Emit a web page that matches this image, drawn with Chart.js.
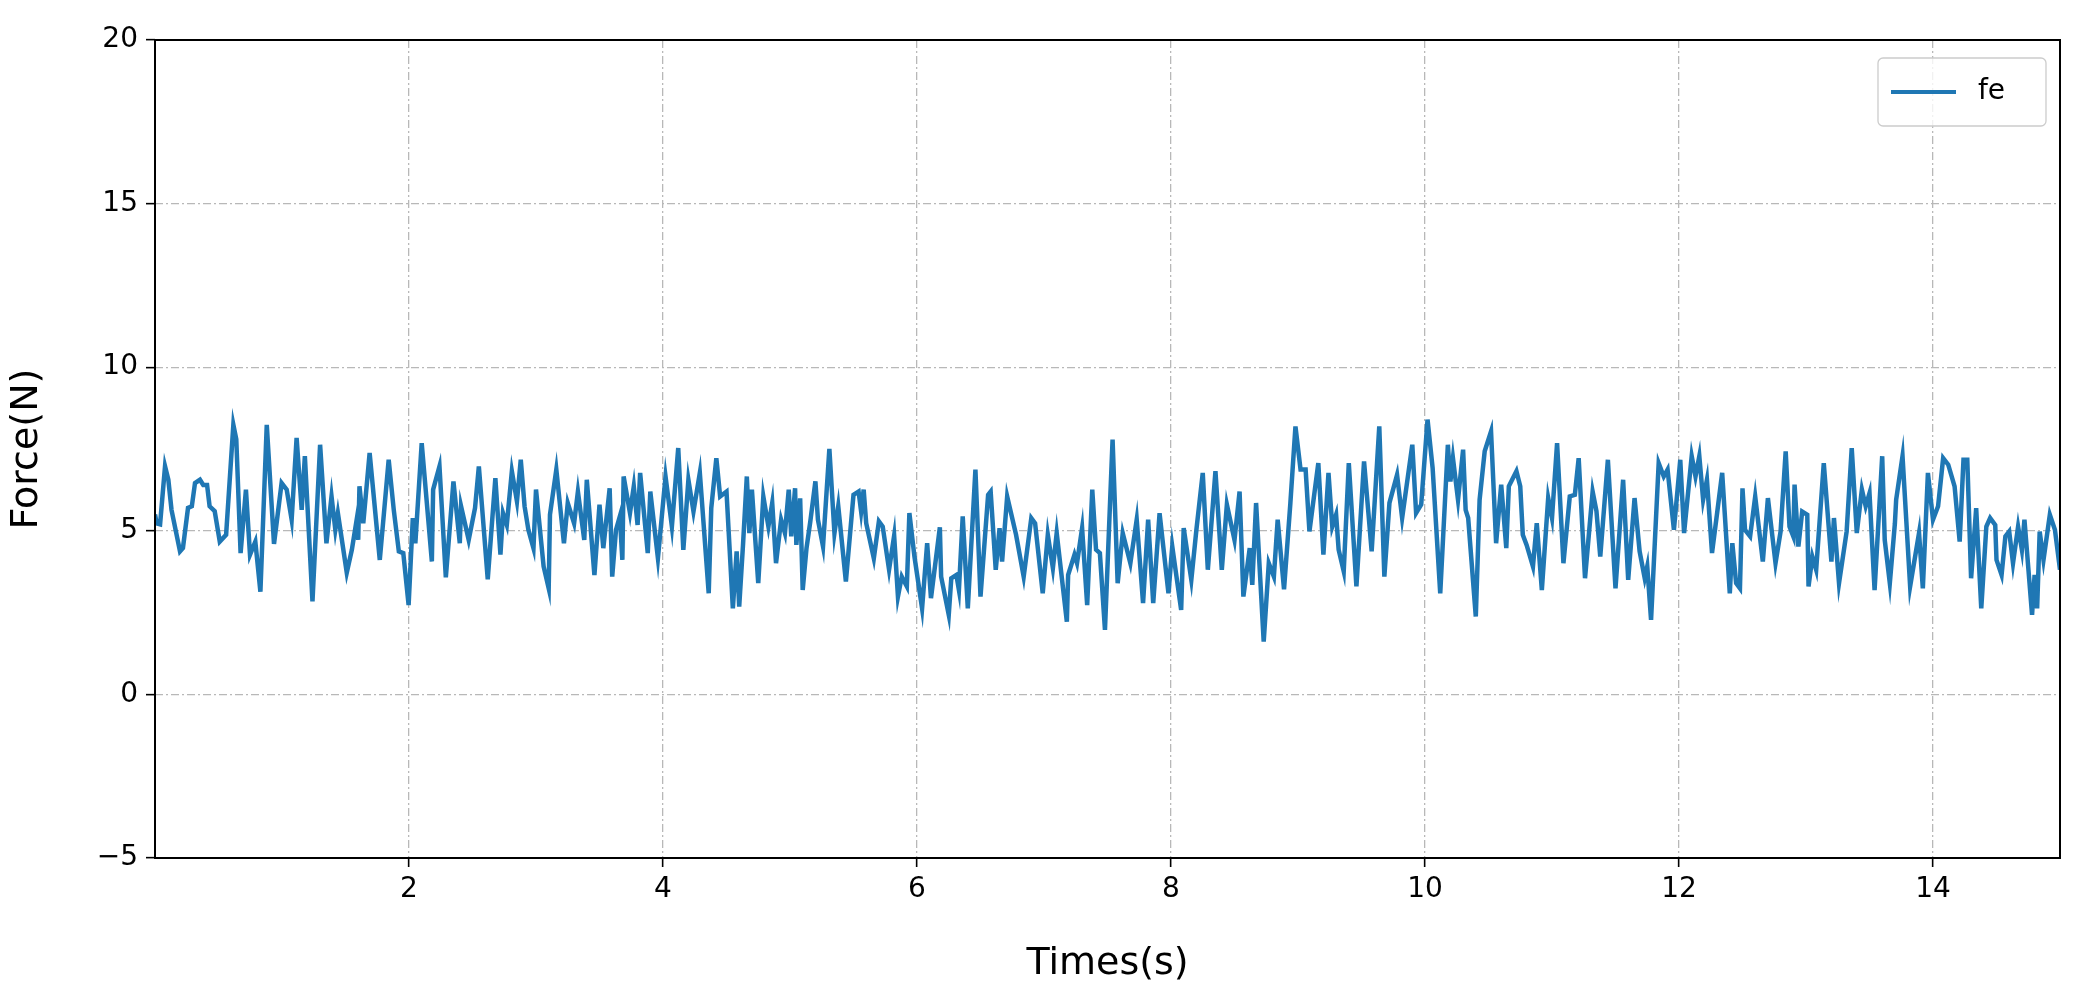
<!DOCTYPE html>
<html><head><meta charset="utf-8">
<script src="https://cdn.jsdelivr.net/npm/chart.js@4"></script>
<style>html,body{margin:0;padding:0;background:#fff}#w{width:2082px;height:991px}</style>
</head><body><div id="w"><canvas id="c"></canvas></div>
<script>
const times = [0,0.013,0.04,0.079,0.105,0.13,0.197,0.22,0.26,0.29,0.315,0.354,0.38,0.41,0.43,0.47,0.51,0.56,0.617,0.64,0.674,0.716,0.748,0.79,0.83,0.88,0.937,0.997,1.037,1.076,1.115,1.155,1.18,1.24,1.30,1.35,1.39,1.42,1.44,1.51,1.55,1.59,1.60,1.61,1.64,1.69,1.77,1.84,1.88,1.92,1.955,1.997,2.03,2.05,2.10,2.18,2.19,2.24,2.29,2.35,2.40,2.41,2.47,2.52,2.55,2.62,2.68,2.72,2.74,2.77,2.81,2.85,2.88,2.91,2.94,2.98,3.0,3.06,3.10,3.11,3.16,3.22,3.25,3.30,3.33,3.38,3.40,3.46,3.50,3.53,3.58,3.60,3.63,3.66,3.68,3.69,3.74,3.77,3.80,
3.82,3.88,3.90,3.96,4.02,4.07,4.12,4.16,4.20,4.24,4.29,4.36,4.38,4.42,4.45,4.50,4.55,4.58,4.60,4.63,4.66,4.68,4.70,4.75,4.79,4.83,4.86,4.89,4.93,4.96,4.99,5.01,5.04,5.05,5.08,5.10,5.13,5.16,5.20,5.22,5.26,5.31,5.35,5.38,5.44,5.50,5.54,5.56,5.58,5.60,5.66,5.70,5.73,5.78,5.82,5.85,5.88,5.92,5.94,5.98,6.04,6.08,6.11,6.18,6.19,6.25,6.27,6.31,6.33,6.36,6.40,6.46,6.50,6.56,6.58,6.62,6.65,6.67,6.71,6.78,6.84,6.90,6.93,6.99,7.03,7.07,7.10,7.18,7.19,7.24,7.26,7.30,7.34,7.38,7.41,7.44,7.48,7.54,7.58,
7.62,7.68,7.73,7.78,7.82,7.86,7.91,7.98,8.01,8.08,8.10,8.16,8.20,8.25,8.29,8.35,8.40,8.44,8.50,8.54,8.57,8.62,8.64,8.67,8.73,8.77,8.81,8.84,8.89,8.94,8.98,9.02,9.06,9.09,9.16,9.20,9.24,9.27,9.30,9.32,9.36,9.40,9.46,9.52,9.58,9.64,9.68,9.72,9.78,9.82,9.90,9.93,9.97,10.02,10.06,10.12,10.18,10.20,10.22,10.26,10.30,10.32,10.34,10.40,10.43,10.47,10.52,10.56,10.60,10.64,10.66,10.72,10.75,10.77,10.80,10.85,10.88,10.92,10.97,11.00,11.04,11.09,11.14,11.18,11.21,11.26,11.32,11.35,
11.38,11.44,11.50,11.56,11.60,11.65,11.69,11.73,11.75,11.78,11.84,11.88,11.91,11.96,12.01,12.04,12.10,12.13,12.16,12.19,12.22,12.26,12.30,12.34,12.40,12.42,12.45,12.48,12.50,12.52,12.56,12.60,12.66,12.70,12.76,12.80,12.84,12.87,12.90,12.91,12.94,12.97,13.01,13.02,13.05,13.08,13.14,13.20,13.22,13.26,13.32,13.36,13.40,13.44,13.47,13.50,13.54,13.60,13.62,13.66,13.70,13.71,13.76,13.82,13.89,13.92,13.96,14.00,14.04,14.08,14.12,14.17,14.21,14.24,14.27,14.30,14.34,14.38,14.42,14.45,14.49,14.50,14.54,14.57,14.60,14.63,14.67,14.70,14.72,14.78,14.80,14.82,14.84,14.87,14.92,14.96,15.0];
const force = [5.5,5.23,5.2,6.97,6.56,5.64,4.37,4.47,5.7,5.75,6.46,6.56,6.4,6.4,5.75,5.6,4.67,4.88,8.24,7.8,4.32,6.26,4.27,4.67,3.14,8.24,4.6,6.46,6.26,5.34,7.84,5.64,7.28,2.84,7.63,4.62,6.05,5.03,5.54,3.72,4.42,5.39,4.72,6.36,5.23,7.38,4.11,7.17,5.64,4.37,4.32,2.73,5.39,4.62,7.68,4.06,6.26,6.97,3.58,6.51,4.62,5.75,4.72,5.7,6.97,3.52,6.61,4.27,5.54,5.18,6.82,5.9,7.17,5.75,5.03,4.47,6.26,3.91,3.24,5.49,6.87,4.62,5.85,5.23,6.2,4.72,6.56,3.65,5.8,4.47,6.3,3.6,5.03,5.44,4.11,6.66,5.54,6.36,5.18,
6.77,4.32,6.2,4.16,6.66,5.13,7.53,4.42,6.56,5.59,6.77,3.09,5.69,7.22,6.05,6.2,2.63,4.37,2.68,4.57,6.66,4.93,6.26,3.4,6.05,5.13,5.85,4.01,5.34,4.93,6.26,4.83,6.3,4.57,5.99,3.19,4.47,5.29,6.51,5.34,4.52,7.5,4.93,5.75,3.45,6.1,6.2,5.59,6.26,5.23,4.16,5.29,5.13,3.81,4.85,2.99,3.6,3.3,5.54,4.21,2.63,4.62,2.94,5.11,3.6,2.43,3.55,3.65,3.19,5.44,2.63,6.87,2.99,6.1,6.2,3.81,5.08,4.06,6.05,4.88,3.6,5.39,5.23,3.09,4.88,3.86,4.93,2.22,3.65,4.27,4.01,5.08,2.73,6.26,4.42,4.32,1.97,7.79,3.4,
4.93,4.01,5.34,2.79,5.34,2.79,5.54,3.09,4.52,2.58,5.08,3.5,5.03,6.77,3.81,6.82,3.81,5.8,4.72,6.2,2.99,4.47,3.35,5.85,1.61,4.01,3.6,5.34,3.21,5.85,8.19,6.87,6.87,4.98,7.07,4.27,6.77,5.13,5.49,4.42,3.76,7.07,3.3,7.12,4.37,8.19,3.6,5.85,6.71,5.39,7.63,5.54,5.8,8.4,6.92,3.09,7.63,6.51,7.22,5.95,7.48,5.64,5.39,2.38,5.95,7.43,8.04,4.62,6.41,4.47,6.36,6.82,6.36,4.88,4.57,3.91,5.23,3.19,6.0,5.39,7.68,4.01,6.05,6.1,7.22,3.55,6.2,5.6,
4.21,7.17,3.24,6.56,3.5,6.0,4.37,3.55,3.91,2.28,7.07,6.66,6.87,5.03,7.17,4.93,7.28,6.66,7.28,5.95,6.56,4.32,5.54,6.77,3.09,4.62,3.4,3.24,6.3,5.03,4.83,6.05,4.06,6.0,4.01,4.98,7.43,5.13,4.83,6.41,4.52,5.59,5.49,3.3,4.21,3.81,7.07,4.06,5.39,3.4,4.98,7.53,4.93,6.26,5.75,6.15,3.19,7.28,4.72,3.4,5.23,5.95,7.28,3.3,4.93,3.24,6.77,5.34,5.75,7.22,7.02,6.36,4.67,7.17,7.17,3.55,5.69,2.63,5.13,5.39,5.18,4.11,3.65,4.83,4.98,4.01,5.13,4.42,5.34,2.43,3.65,2.63,4.98,4.11,5.49,5.03,3.81];
const yTicks = [-5,0,5,10,15,20];
const xTicks = [2,4,6,8,10,12,14];
const seriesName = 'fe';

const FONT = 'DejaVu Sans';
const color = '#1f77b4';
const pts = times.map((t,i)=>({x:t,y:force[i]}));
const fmt = v => v < 0 ? '\u2212' + Math.abs(v) : String(v);

const frameAndLegend = {
  id:'fl',
  afterDraw(ch){
    const {ctx, chartArea:a} = ch;
    ctx.save();
    ctx.strokeStyle = '#000'; ctx.lineWidth = 2;
    ctx.strokeRect(a.left, a.top, a.right-a.left, a.bottom-a.top);
    const bw = 168, bh = 68, bx = a.right - 14 - bw, by = a.top + 18;
    ctx.fillStyle = 'rgba(255,255,255,0.8)';
    ctx.strokeStyle = '#cccccc'; ctx.lineWidth = 1.3;
    ctx.beginPath(); ctx.roundRect(bx, by, bw, bh, 5); ctx.fill(); ctx.stroke();
    ctx.strokeStyle = color; ctx.lineWidth = 4;
    ctx.beginPath(); ctx.moveTo(bx+13, by+bh/2); ctx.lineTo(bx+78, by+bh/2); ctx.stroke();
    ctx.fillStyle = '#000'; ctx.font = '28px "' + FONT + '"';
    ctx.textBaseline = 'middle'; ctx.textAlign = 'left';
    ctx.fillText(ch.data.datasets[0].label, bx+100, by+bh/2);
    ctx.restore();
  }
};

const gridCfg = {color:'#b8b8b8', lineWidth:1.3, tickColor:'#000', tickLength:9, tickBorderDash:[], tickWidth:1.6, drawTicks:true};
const borderCfg = {display:false, dash:[8,3,2,3]};

new Chart(document.getElementById('c'), {
  type:'line',
  data:{datasets:[{label:seriesName, data:pts, borderColor:color, borderWidth:4.5, pointRadius:0, tension:0, fill:false}]},
  options:{
    responsive:true, maintainAspectRatio:false, animation:false,
    layout:{padding:{left:0,right:22,top:40,bottom:0}},
    plugins:{legend:{display:false}, tooltip:{enabled:false}},
    scales:{
      x:{type:'linear', min:0, max:15,
        afterBuildTicks(s){ s.ticks = xTicks.map(v=>({value:v})); },
        afterFit(s){ s.height = 133; },
        grid:gridCfg, border:borderCfg,
        ticks:{color:'#000', font:{family:FONT,size:28}, padding:6, maxRotation:0, callback:v=>fmt(v)},
        title:{display:true, text:'Times(s)', color:'#000', font:{family:FONT,size:38}, padding:{top:4}}},
      y:{type:'linear', min:-5, max:20,
        afterBuildTicks(s){ s.ticks = yTicks.map(v=>({value:v})); },
        afterFit(s){ s.width = 155; },
        grid:gridCfg, border:borderCfg,
        ticks:{color:'#000', font:{family:FONT,size:28}, padding:8, callback:v=>fmt(v)},
        title:{display:true, text:'Force(N)', color:'#000', font:{family:FONT,size:38}, padding:{bottom:4}}}
    }
  },
  plugins:[frameAndLegend]
});
</script></body></html>
